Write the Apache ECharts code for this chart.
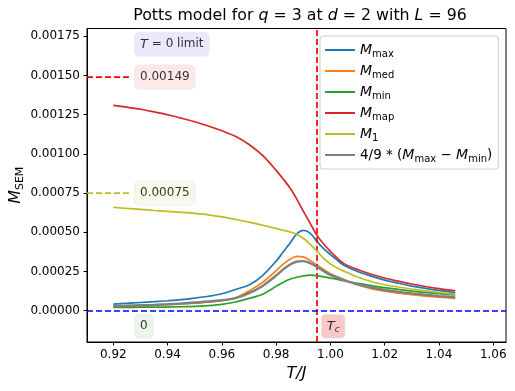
<!DOCTYPE html>
<html><head><meta charset="utf-8">
<script src="https://cdn.jsdelivr.net/npm/echarts@6/dist/echarts.min.js"></script>
<style>html,body{margin:0;padding:0;background:#fff}#c{width:515px;height:391px}</style>
</head><body><div id="c"></div>
<script>
const temps = [0.92, 0.925, 0.93, 0.935, 0.94, 0.945, 0.95, 0.955, 0.96, 0.965, 0.97, 0.975, 0.98, 0.9825, 0.985, 0.9875, 0.99, 0.9925, 0.995, 0.9975, 1.0, 1.0025, 1.005, 1.01, 1.015, 1.02, 1.025, 1.03, 1.035, 1.04, 1.046];
const mMax = [0.000042,0.000047,0.000052,0.000057,0.000063,0.000070,0.000080,0.000092,0.000108,0.000135,0.000163,0.000224,0.000316,0.000372,0.000428,0.000488,0.000512,0.000495,0.000442,0.000395,0.000358,0.000322,0.000290,0.000250,0.000220,0.000195,0.000175,0.000157,0.000142,0.000129,0.000114];
const mMed = [0.000025,0.000028,0.000031,0.000034,0.000038,0.000043,0.000048,0.000055,0.000063,0.000082,0.000125,0.000180,0.000255,0.000295,0.000326,0.000346,0.000343,0.000320,0.000292,0.000262,0.000236,0.000216,0.000198,0.000165,0.000141,0.000124,0.000112,0.000102,0.000093,0.000086,0.000078];
const mMin = [0.000021,0.000021,0.000022,0.000022,0.000023,0.000025,0.000027,0.000032,0.000040,0.000055,0.000078,0.000105,0.000155,0.000180,0.000200,0.000212,0.000221,0.000226,0.000224,0.000216,0.000208,0.000200,0.000191,0.000174,0.000160,0.000147,0.000136,0.000125,0.000116,0.000108,0.000100];
const mMap = [0.001310,0.001298,0.001285,0.001268,0.001250,0.001228,0.001205,0.001178,0.001148,0.001112,0.001060,0.000990,0.000895,0.000842,0.000785,0.000715,0.000635,0.000558,0.000482,0.000425,0.000378,0.000335,0.000300,0.000262,0.000232,0.000208,0.000188,0.000170,0.000154,0.000140,0.000126];
const m1 = [0.000659,0.000652,0.000646,0.000639,0.000633,0.000627,0.000620,0.000611,0.000598,0.000582,0.000565,0.000545,0.000524,0.000513,0.000503,0.000488,0.000462,0.000425,0.000380,0.000333,0.000298,0.000272,0.000252,0.000215,0.000186,0.000165,0.000151,0.000138,0.000126,0.000116,0.000105];
const mDiff = [0.000029,0.000031,0.000034,0.000037,0.000041,0.000046,0.000052,0.000058,0.000066,0.000080,0.000112,0.000158,0.000224,0.000262,0.000293,0.000312,0.000316,0.000303,0.000280,0.000252,0.000228,0.000211,0.000195,0.000168,0.000148,0.000132,0.000120,0.000110,0.000101,0.000093,0.000085];

const xTicks = [0.92, 0.94, 0.96, 0.98, 1.00, 1.02, 1.04, 1.06];
const yTicks = [0, 0.00025, 0.0005, 0.00075, 0.001, 0.00125, 0.0015, 0.00175];
const tc = 0.995;
const zeroLimitMap = 0.00149;
const zeroLimitM1 = 0.00075;

const seriesNames = ['M_max','M_med','M_min','M_map','M_1','4/9*(M_max-M_min)'];
const seriesValues = [mMax, mMed, mMin, mMap, m1, mDiff];
const colors = ['#1f77b4','#ff7f0e','#2ca02c','#d62728','#bcbd22','#7f7f7f'];
const legendRich = {
  'M_max': '{i|M}{s|max}',
  'M_med': '{i|M}{s|med}',
  'M_min': '{i|M}{s|min}',
  'M_map': '{i|M}{s|map}',
  'M_1': '{i|M}{s|1}',
  '4/9*(M_max-M_min)': '{n|4/9 * (}{i|M}{s|max}{n| − }{i|M}{s|min}{n|)}'
};

const XMIN = 0.9103, XMAX = 1.0647;
const FONT = 'DejaVu Sans';
const dash = [6, 3];

const chart = echarts.init(document.getElementById('c'), null, {renderer: 'canvas'});

const lineSeries = seriesNames.map((n, k) => ({
  name: n, type: 'line', showSymbol: false, symbol: 'none', smooth: 0.3,
  data: temps.map((t, i) => [t, seriesValues[k][i]]),
  lineStyle: {color: colors[k], width: k === 5 ? 2.4 : 1.7},
  itemStyle: {color: colors[k]},
  z: 3 + k
}));

const xShort = XMIN + 0.1 * (XMAX - XMIN);

const annotations = [
  {x: 0.928, y: 0.0017, text: '{i|T}{n| = 0 limit}', bg: '#e4e4f8'},
  {x: 0.928, y: zeroLimitMap, text: '{n|' + zeroLimitMap.toFixed(5) + '}', bg: '#fde3e3'},
  {x: 0.928, y: zeroLimitM1, text: '{n|' + zeroLimitM1.toFixed(5) + '}', bg: '#f7f7e4'},
  {x: 0.928, y: -0.0001, text: '{n|0}', bg: '#e6f2e6'},
  {x: 0.9968, y: -0.0001, text: '{i|T}{s|c}', bg: '#f8bcbc'}
];

const annRich = {
  n: {fontFamily: FONT, fontSize: 12, color: '#000', lineHeight: 15},
  i: {fontFamily: FONT, fontSize: 13, fontStyle: 'italic', color: '#000', lineHeight: 15},
  s: {fontFamily: FONT, fontSize: 9, fontStyle: 'italic', color: '#000', lineHeight: 8, verticalAlign: 'bottom'}
};

const option = {
  animation: false,
  backgroundColor: '#fff',
  title: {
    text: '{n|Potts model for }{i|q}{n| = 3 at }{i|d}{n| = 2 with }{i|L}{n| = 96}',
    left: 295, top: 3, textAlign: 'center',
    textStyle: {
      fontWeight: 'normal',
      rich: {
        n: {fontFamily: FONT, fontSize: 15.8, fontWeight: 'normal', color: '#000'},
        i: {fontFamily: FONT, fontSize: 15.8, fontWeight: 'normal', fontStyle: 'italic', color: '#000'}
      }
    }
  },
  grid: {left: 87, right: 9, top: 28.5, bottom: 49, outerBoundsMode: 'none', containLabel: false, show: true, borderColor: '#000', borderWidth: 1, backgroundColor: 'transparent'},
  legend: {
    orient: 'vertical', left: 320, top: 36,
    data: seriesNames,
    icon: 'rect', itemWidth: 30, itemHeight: 2, itemGap: 5, itemTextGap: 12,
    padding: [7, 6, 5, 5],
    backgroundColor: '#fff', borderColor: '#cccccc', borderWidth: 1, borderRadius: 3,
    formatter: n => legendRich[n],
    textStyle: {
      fontFamily: FONT, fontSize: 13.5, color: '#000',
      rich: {
        i: {fontFamily: FONT, fontSize: 14, fontStyle: 'italic', lineHeight: 18, color: '#000'},
        n: {fontFamily: FONT, fontSize: 13.5, lineHeight: 18, color: '#000'},
        s: {fontFamily: FONT, fontSize: 10, lineHeight: 8, verticalAlign: 'bottom', color: '#000'}
      }
    },
    z: 20
  },
  xAxis: {
    type: 'value', min: XMIN, max: XMAX,
    name: 'T/J', nameLocation: 'middle', nameGap: 24, nameMoveOverlap: false,
    nameTextStyle: {fontFamily: FONT, fontSize: 16, fontStyle: 'italic', color: '#000'},
    axisLine: {show: true, onZero: false, lineStyle: {color: '#000', width: 1}},
    axisTick: {show: true, length: 3.5, customValues: xTicks, lineStyle: {color: '#000'}},
    axisLabel: {customValues: xTicks, margin: 7, fontFamily: FONT, fontSize: 12, color: '#000', formatter: v => v.toFixed(2)},
    splitLine: {show: false}
  },
  yAxis: {
    type: 'value', min: -0.0002, max: 0.0018,
    name: '{i|M}{s|SEM}', nameLocation: 'middle', nameRotate: 90, nameGap: 61, nameMoveOverlap: false,
    nameTextStyle: {
      rich: {
        i: {fontFamily: FONT, fontSize: 16, fontStyle: 'italic', color: '#000', lineHeight: 20},
        s: {fontFamily: FONT, fontSize: 11, color: '#000', lineHeight: 10, verticalAlign: 'bottom'}
      }
    },
    axisLine: {show: true, onZero: false, lineStyle: {color: '#000', width: 1}},
    axisTick: {show: true, length: 3.5, customValues: yTicks, lineStyle: {color: '#000'}},
    axisLabel: {customValues: yTicks, margin: 7, fontFamily: FONT, fontSize: 12, color: '#000', formatter: v => v.toFixed(5)},
    splitLine: {show: false}
  },
  series: [
    ...lineSeries,
    {
      name: 'limitMap', type: 'line', showSymbol: false, symbol: 'none',
      data: [[XMIN, zeroLimitMap], [xShort, zeroLimitMap]],
      lineStyle: {color: '#ff0000', width: 1.7, type: dash}, z: 2
    },
    {
      name: 'limitM1', type: 'line', showSymbol: false, symbol: 'none',
      data: [[XMIN, zeroLimitM1], [xShort, zeroLimitM1]],
      lineStyle: {color: '#bcbd22', width: 1.7, type: dash}, z: 2
    },
    {
      name: 'refs', type: 'line', showSymbol: false, symbol: 'none',
      data: [[tc, 0]], z: 10,
      markLine: {
        silent: true, symbol: 'none', label: {show: false}, precision: 8,
        lineStyle: {type: dash, width: 1.7},
        data: [
          {xAxis: tc, lineStyle: {color: '#ff0000', type: dash, width: 1.7}},
          {yAxis: 0, lineStyle: {color: '#0000ff', type: dash, width: 1.7}}
        ]
      }
    },
    {
      name: 'ann', type: 'scatter', symbolSize: 0, z: 15,
      data: annotations.map(a => ({
        value: [a.x, a.y],
        label: {
          show: true, position: 'right', distance: 0,
          formatter: a.text, rich: annRich,
          backgroundColor: a.bg, borderColor: 'rgba(0,0,0,0.08)', borderWidth: 1, borderRadius: 4,
          padding: [4, 5, 4, 5]
        }
      }))
    }
  ]
};
chart.setOption(option);
</script>
</body></html>
